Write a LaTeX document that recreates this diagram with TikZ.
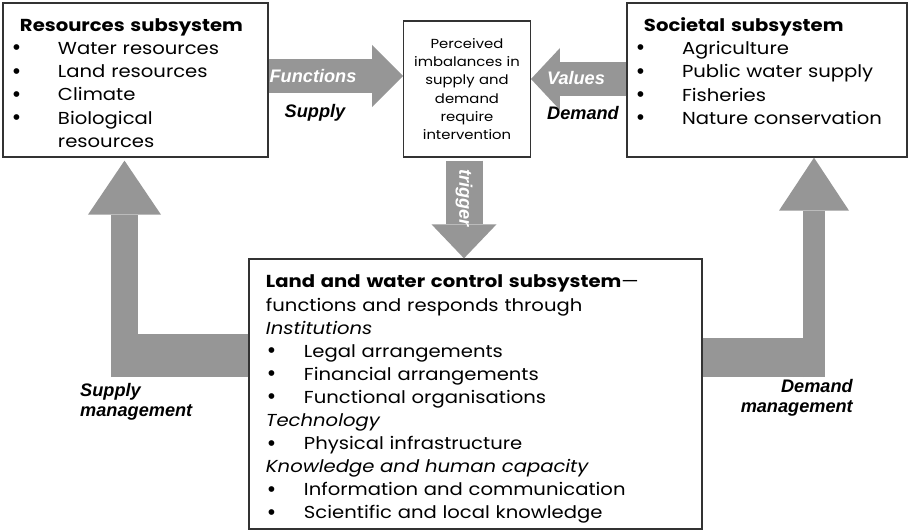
\documentclass[tikz,border=0pt]{standalone}
\usepackage{fontspec}
\setmainfont{Poppins}[FakeStretch=1.13]
\newfontfamily\labelfont{Liberation Sans}
\newfontfamily\bulletfont{Liberation Sans}
\usetikzlibrary{arrows.meta}
\usetikzlibrary{positioning}
\definecolor{flowgray}{RGB}{150,150,150}
\newcommand{\bitem}[2][-2.1mm]{\makebox[0pt][l]{\hspace*{#1}{\bulletfont\fontsize{18}{19}\selectfont\raisebox{-0.5pt}{\textbullet}}}\hspace*{11.4mm}#2}
\newcommand{\topgap}[1]{\rule{0pt}{#1}}
\tikzstyle{subsystem} = [rectangle, draw=black!80, line width=1.1pt, inner xsep=5.1mm, inner ysep=0pt, align=left, font=\fontsize{14.8}{19.9}\selectfont]
\tikzstyle{percbox} = [rectangle, draw=black!80, line width=1.1pt, inner sep=0pt, align=center, text width=38mm, minimum height=40.8mm, font=\fontsize{11.2}{15.5}\selectfont]
\tikzstyle{flow} = [draw=flowgray]
\tikzstyle{flowlabel} = [inner sep=0pt, font=\labelfont\bfseries\itshape\fontsize{15.5}{17.5}\selectfont]

\begin{document}
\begin{tikzpicture}[x=0.03cm, y=-0.03cm]
  \useasboundingbox (0,0) rectangle (910,531);

  \node (res) [subsystem, text width=69.3mm, minimum height=46.2mm] at (135.5,80) {
    \topgap{16pt}\textbf{Resources subsystem}\\
    \bitem{Water resources}\\
    \bitem{Land resources}\\
    \bitem{Climate}\\
    \bitem{Biological}\\
    \hspace*{11.4mm}resources};

  \node (perc) [percbox] at (467,89) {Perceived\\ imbalances in\\ supply and\\ demand\\ require\\ intervention};

  \node (soc) [subsystem, text width=73.8mm, minimum height=46.2mm] at (767,80) {
    \topgap{16pt}\textbf{Societal subsystem}\\
    \bitem{Agriculture}\\
    \bitem{Public water supply}\\
    \bitem{Fisheries}\\
    \bitem{Nature conservation}\\
    \mbox{}};

  \node (land) [subsystem, text width=125.7mm, minimum height=81mm, font=\fontsize{14.8}{19.7}\selectfont] at (475.5,394) {
    \topgap{20pt}\textbf{Land and water control subsystem}—\\
    functions and responds through\\
    \textit{Institutions}\\
    \bitem[0.6mm]{Legal arrangements}\\
    \bitem[0.6mm]{Financial arrangements}\\
    \bitem[0.6mm]{Functional organisations}\\
    \textit{Technology}\\
    \bitem[0.6mm]{Physical infrastructure}\\
    \textit{Knowledge and human capacity}\\
    \bitem[0.6mm]{Information and communication}\\
    \bitem[0.6mm]{Scientific and local knowledge}};

  \coordinate (supmid) at (111,355.5);
  \coordinate (supfoot) at (124.5,377);
  \coordinate (demmid) at (825,357.5);
  \coordinate (demfoot) at (814,377);

  % supply and demand arrows
  \draw[flow, line width=9.9mm, -{Triangle[width=18.6mm, length=9.3mm, line width=0pt]}] (res.east |- 0,76) -- (perc.west |- 0,76);
  \draw[flow, line width=9.9mm, -{Triangle[width=18.6mm, length=8.7mm, line width=0pt]}] (soc.west |- 0,79) -- (perc.east |- 0,79);
  \draw[flow, line width=11.1mm, shorten <=0.9mm, -{Triangle[width=19.5mm, length=10.2mm, line width=0pt]}] (perc.south -| 464,0) -- (land.north -| 464,0);

  % management arrows
  \draw[flow, line width=12.9mm] (land.west |- supmid) -- (supmid);
  \draw[flow, line width=8.1mm, shorten >=0.9mm, -{Triangle[width=21.9mm, length=16.2mm, line width=0pt]}] (supfoot) -- (res.south -| supfoot);
  \draw[flow, line width=11.7mm] (land.east |- demmid) -- (demmid);
  \draw[flow, line width=6.6mm, -{Triangle[width=21mm, length=15.9mm, line width=0pt]}] (demfoot) -- (soc.south -| demfoot);

  \node (functxt) [flowlabel, text=white] at (313,76) {Functions};
  \node (suptxt) [flowlabel] at (315,113) {Supply};
  \node (valtxt) [flowlabel, text=white] at (576,78) {Values};
  \node (demtxt) [flowlabel] at (583,113) {Demand};
  \node (trigtxt) [flowlabel, text=white, rotate=-90] at (464,198) {trigger};
  \node (supmgt) [flowlabel, anchor=west, align=left] at (80,402) {Supply\\ management};
  \node (demmgt) [flowlabel, anchor=east, align=right] at (853,398) {Demand\\ management};
\end{tikzpicture}
\end{document}
